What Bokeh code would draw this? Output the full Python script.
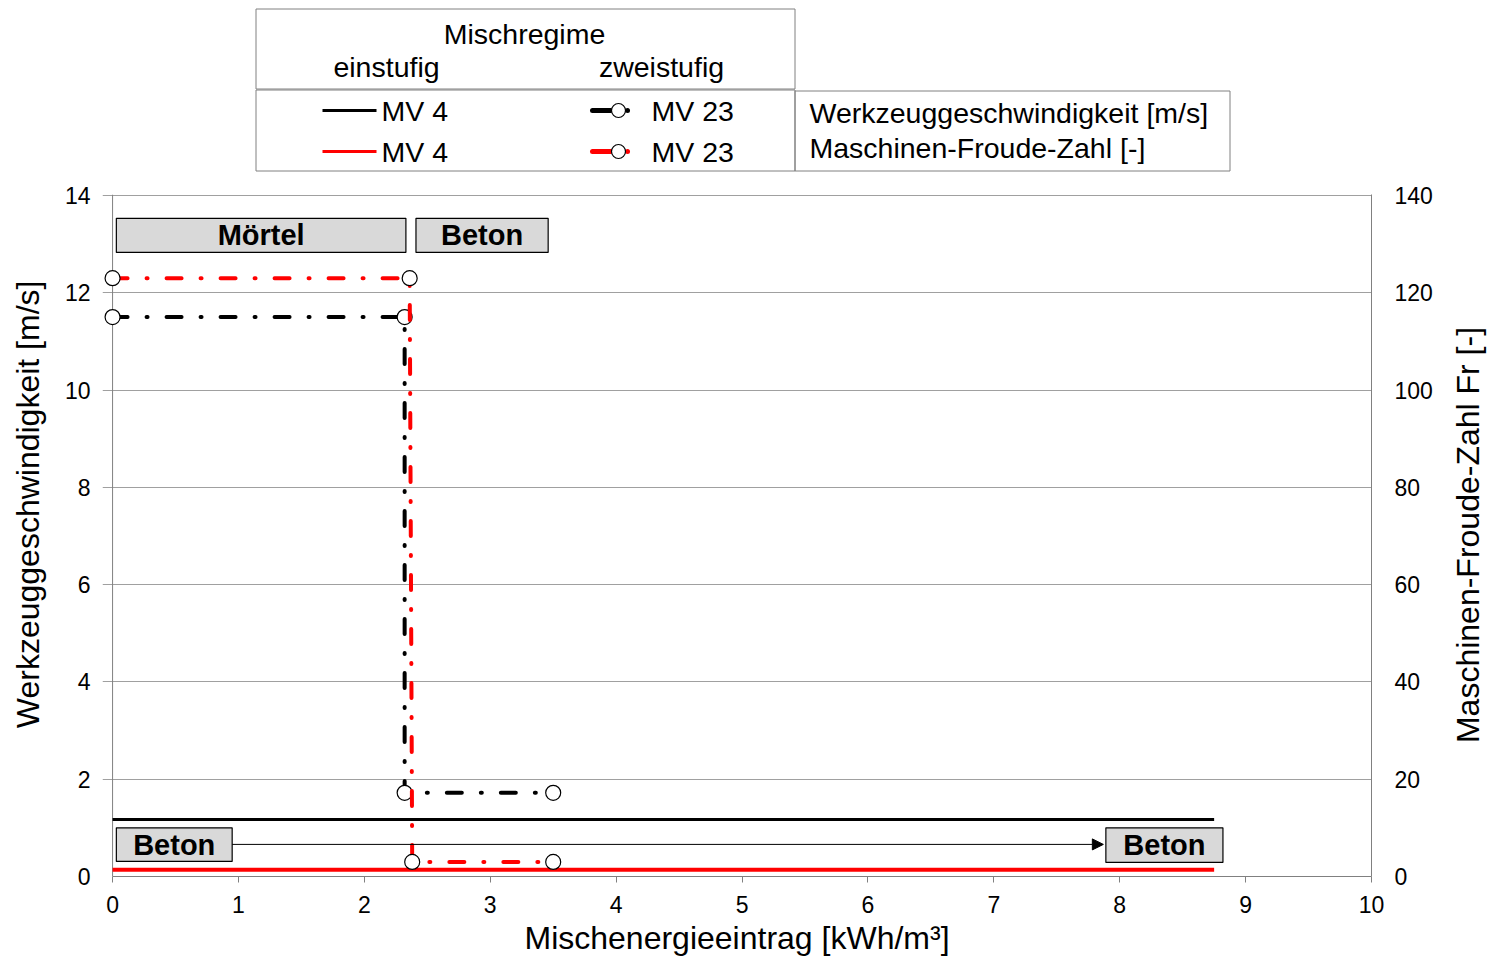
import math
from bokeh.plotting import figure
from bokeh.models import Range1d, LinearAxis, Arrow, NormalHead, FixedTicker, Span
from bokeh.layouts import column, row
from bokeh.core.properties import value
from bokeh.embed import file_html
from bokeh.resources import INLINE

FONT = "Liberation Sans"

# ---------------- data ----------------
x_mv4 = [0.0, 8.75]
v_mv4 = [1.17, 1.17]          # Werkzeuggeschwindigkeit [m/s], einstufig
fr_mv4 = [1.4, 1.4]           # Maschinen-Froude-Zahl [-], einstufig
x_mv23_v = [0.0, 2.32, 2.32, 3.5]
v_mv23 = [11.5, 11.5, 1.72, 1.72]     # zweistufig
x_mv23_fr = [0.0, 2.36, 2.38, 3.5]
fr_mv23 = [123.0, 123.0, 3.0, 3.0]    # zweistufig

x_ticks = list(range(0, 11))
v_ticks = list(range(0, 15, 2))
fr_ticks = list(range(0, 141, 20))

x_title = "Mischenergieeintrag [kWh/m³]"
y_title = "Werkzeuggeschwindigkeit [m/s]"
y2_title = "Maschinen-Froude-Zahl Fr [-]"

region_labels = ["Mörtel", "Beton", "Beton", "Beton"]
region_left = [0.03, 2.41, 0.03, 7.89]
region_right = [2.33, 3.46, 0.95, 8.82]
region_bottom = [12.83, 12.83, 0.31, 0.29]
region_top = [13.53, 13.53, 1.0, 1.0]
arrow_x = [0.95, 7.87]
arrow_y = [0.66, 0.66]

legend_head = ["Mischregime", "einstufig", "zweistufig"]
legend_names = ["MV 4", "MV 4", "MV 23", "MV 23"]
legend_quantities = ["Werkzeuggeschwindigkeit [m/s]", "Maschinen-Froude-Zahl [-]"]

GRAY = "#808080"
X0 = -0.08                      # a little room left of x=0 so the markers are not clipped
Y1 = 14.02                      # a little room above 14 so the top line is drawn
FRAME_L, FRAME_R = 102, 1371
W = 1441                        # legend + chart width
RW = 49                         # width of the strip holding the right axis title
LH = 183                        # legend strip height
CH = 779                        # chart height
BOTTOM = 86

# ---------------- legend figure (page pixel coordinates) ----------------
leg = figure(width=W, height=LH, x_range=Range1d(FRAME_L, FRAME_R), y_range=Range1d(LH, 0),
             output_backend="svg", toolbar_location=None,
             min_border_left=FRAME_L, min_border_right=W - FRAME_R,
             min_border_top=0, min_border_bottom=0,
             x_axis_location=None, y_axis_location=None)
leg.grid.visible = False
leg.outline_line_color = None

leg.quad(left=[255.5, 255.5, 794.5], right=[794.5, 794.5, 1229.5],
         top=[8.5, 89.5, 90.5], bottom=[88.5, 170.5, 170.5],
         fill_color=None, line_color=GRAY, line_width=1)

leg.text(x=[524, 386, 661], y=[33, 66, 66], text=legend_head,
         text_font=value(FONT), text_font_size="28.5px", text_align="center",
         text_baseline="middle", text_color="black")
leg.text(x=[381, 381, 651, 651], y=[110, 151, 110, 151], text=legend_names,
         text_font=value(FONT), text_font_size="28.5px", text_align="left",
         text_baseline="middle", text_color="black")
leg.text(x=[809, 809], y=[112, 147], text=legend_quantities,
         text_font=value(FONT), text_font_size="28.5px", text_align="left",
         text_baseline="middle", text_color="black")

leg.line([322, 376], [110, 110], line_color="black", line_width=3)
leg.line([322, 376], [151, 151], line_color="red", line_width=3)
leg.line([592, 610], [110, 110], line_color="black", line_width=5, line_cap="round")
leg.line([592, 610], [151, 151], line_color="red", line_width=5, line_cap="round")
leg.scatter([627, 627], [110, 151], marker="circle", size=5, fill_color=["black", "red"],
            line_color=None)
leg.scatter([618, 618], [110, 151], marker="circle", size=14, fill_color="white",
            line_color="black", line_width=1.2)

# ---------------- chart ----------------
p = figure(width=W, height=CH, x_range=Range1d(X0, 10), y_range=Range1d(0, Y1),
           output_backend="svg", toolbar_location=None,
           min_border_left=FRAME_L, min_border_right=W - FRAME_R,
           min_border_top=11, min_border_bottom=BOTTOM)
p.extra_y_ranges = {"fr": Range1d(0, Y1 * 10)}
ax_r = LinearAxis(y_range_name="fr")
p.add_layout(ax_r, "right")
ax_l = p.yaxis[0]
ax_x = p.xaxis[0]

ax_x.ticker = FixedTicker(ticks=x_ticks)
ax_l.ticker = FixedTicker(ticks=v_ticks)
ax_r.ticker = FixedTicker(ticks=fr_ticks)
ax_x.bounds = (0, 10)

for ax in [ax_x, ax_l, ax_r]:
    ax.axis_line_color = GRAY
    ax.major_tick_line_color = GRAY
    ax.minor_tick_line_color = None
    ax.major_tick_in = 0
    ax.major_label_text_font = FONT
    ax.major_label_text_font_size = "23px"
    ax.major_label_text_color = "black"
    ax.axis_label_text_font = FONT
    ax.axis_label_text_font_size = "32px"
    ax.axis_label_text_font_style = "normal"
    ax.axis_label_text_color = "black"
ax_x.major_tick_out = 6
ax_x.major_label_standoff = 13
ax_x.axis_label = x_title
ax_x.axis_label_standoff = 4
ax_l.axis_line_color = None
for ax in [ax_l, ax_r]:
    ax.major_tick_out = 0
ax_l.major_label_standoff = 12
ax_r.major_label_standoff = 23
# the reference title sits a little above the middle: leading no-break spaces shift it up
ax_l.axis_label = "\u00a0" * 7 + y_title
ax_l.axis_label_standoff = 16

p.xgrid.visible = False
p.ygrid.ticker = FixedTicker(ticks=v_ticks)
p.ygrid.bounds = (0, 10)
p.ygrid.grid_line_color = "#a0a0a0"
p.ygrid.grid_line_width = 1
p.outline_line_color = None
p.add_layout(Span(location=0, dimension="height", line_color=GRAY, line_width=1,
                  level="underlay"))

# region boxes
p.quad(left=region_left, right=region_right, bottom=region_bottom, top=region_top,
       fill_color="#d9d9d9", line_color="black", line_width=1.2)
p.text(x=[(a + b) / 2 for a, b in zip(region_left, region_right)],
       y=[(a + b) / 2 for a, b in zip(region_bottom, region_top)],
       text=region_labels, text_font=value(FONT), text_font_style="bold",
       text_font_size="29px", text_align="center", text_baseline="middle",
       text_color="black")
p.add_layout(Arrow(end=NormalHead(size=11, fill_color="black", line_color="black"),
                   x_start=arrow_x[0], y_start=arrow_y[0], x_end=arrow_x[1], y_end=arrow_y[1],
                   line_color="black", line_width=1))

# einstufig
p.line(x_mv4, v_mv4, line_color="black", line_width=3)
p.line(x_mv4, fr_mv4, y_range_name="fr", line_color="red", line_width=4)

# zweistufig
p.line(x_mv23_v, v_mv23, line_color="black", line_width=4, line_dash="15 19 1 19",
       line_cap="round")
p.scatter(x_mv23_v, v_mv23, marker="circle", size=15, fill_color="white",
          line_color="black", line_width=1.2)
p.line(x_mv23_fr, fr_mv23, y_range_name="fr", line_color="red", line_width=4,
       line_dash="15 19 1 19", line_cap="round")
p.scatter(x_mv23_fr, fr_mv23, y_range_name="fr", marker="circle", size=15,
          fill_color="white", line_color="black", line_width=1.2)

# ---------------- right axis title strip (same vertical scale as the chart) ----------------
rt = figure(width=RW, height=LH + CH, x_range=Range1d(0, RW), y_range=Range1d(0, Y1),
            output_backend="svg", toolbar_location=None,
            min_border_left=0, min_border_right=0,
            min_border_top=LH + 11, min_border_bottom=BOTTOM,
            x_axis_location=None, y_axis_location=None)
rt.grid.visible = False
rt.outline_line_color = None
rt.text(x=[26], y=[7.02], text=[y2_title], angle=math.pi / 2,
        text_font=value(FONT), text_font_size="32px", text_align="center",
        text_baseline="middle", text_color="black")

layout = row(column(leg, p, spacing=0), rt, spacing=0)
open("out.html", "w").write(file_html(layout, INLINE))
